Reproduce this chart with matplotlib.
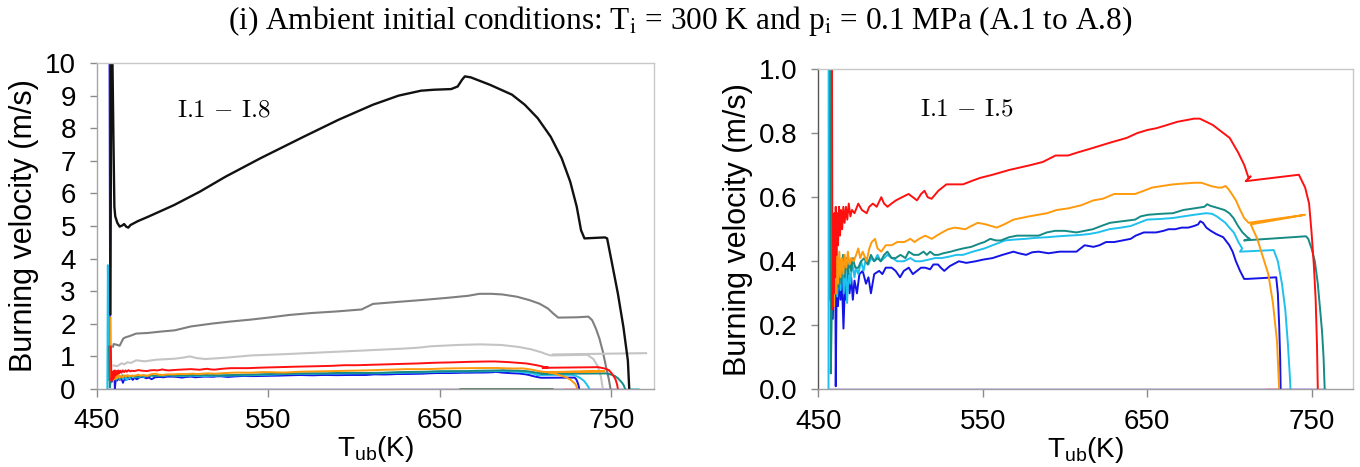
import numpy as np
import matplotlib

matplotlib.use("Agg")
import matplotlib.pyplot as plt

plt.rcParams["font.family"] = ["Liberation Sans", "DejaVu Sans"]
plt.rcParams["mathtext.fontset"] = "custom"
plt.rcParams["mathtext.rm"] = "Liberation Sans"
plt.rcParams["mathtext.it"] = "Liberation Sans:italic"

# --- data (T_ub [K], burning velocity [m/s]) ---
red_pts = np.array([
    [458.2, 1.30], [458.6, 0.25], [459.0, 0.50], [459.4, 0.30], [459.8, 0.55], [460.2, 0.35],
    [460.6, 0.57], [461.0, 0.42], [461.5, 0.55], [462.0, 0.45], [462.6, 0.57], [463.2, 0.48],
    [463.8, 0.56], [464.5, 0.50], [465.2, 0.57], [466.0, 0.52], [466.8, 0.57], [467.6, 0.53],
    [468.5, 0.58], [469.5, 0.54], [470.5, 0.56], [472.0, 0.55], [474.3, 0.58], [476.5, 0.56],
    [479.4, 0.55], [481.0, 0.57], [483.2, 0.58], [485.5, 0.57], [488.3, 0.60], [490.0, 0.58],
    [492.1, 0.57], [494.5, 0.58], [497.2, 0.59], [501.0, 0.60], [504.9, 0.61], [507.5, 0.60],
    [510.0, 0.59], [512.5, 0.61], [514.6, 0.62], [516.5, 0.60], [518.9, 0.595], [523.0, 0.62],
    [527.9, 0.64], [533.0, 0.64], [538.0, 0.64], [543.0, 0.65], [548.3, 0.66], [556.0, 0.67],
    [566.2, 0.685], [579.0, 0.70], [586.6, 0.71], [594.3, 0.73], [598.0, 0.73], [601.9, 0.73],
    [608.0, 0.74], [614.7, 0.75], [627.4, 0.77], [637.6, 0.785], [644.0, 0.80], [650.4, 0.81],
    [655.5, 0.815], [662.0, 0.825], [668.2, 0.835], [678.5, 0.845], [682.0, 0.845], [686.1, 0.835],
    [690.0, 0.825], [693.8, 0.81], [700.2, 0.785], [705.3, 0.74], [709.1, 0.70], [711.7, 0.66],
    [713.0, 0.665], [709.9, 0.65], [742.3, 0.67], [746.1, 0.63], [748.5, 0.58], [750.0, 0.49],
    [751.5, 0.38], [752.5, 0.28], [753.3, 0.14], [753.8, 0.0],
])

orange_pts = np.array([
    [458.0, 2.2], [458.4, 0.30], [459.0, 0.45], [459.6, 0.26], [460.2, 0.40], [460.8, 0.30],
    [461.4, 0.42], [462.0, 0.33], [462.8, 0.43], [463.5, 0.35], [464.3, 0.41], [465.2, 0.36],
    [466.0, 0.42], [467.0, 0.38], [468.0, 0.43], [469.0, 0.39], [470.0, 0.41], [471.5, 0.40],
    [473.0, 0.42], [474.3, 0.44], [475.5, 0.41], [477.0, 0.43], [479.4, 0.40], [481.0, 0.44],
    [482.5, 0.46], [484.5, 0.47], [486.0, 0.44], [488.3, 0.43], [491.0, 0.45], [494.6, 0.45],
    [498.0, 0.46], [502.3, 0.46], [506.0, 0.47], [508.5, 0.46], [511.3, 0.47], [515.0, 0.48],
    [519.0, 0.47], [522.0, 0.48], [525.3, 0.49], [529.0, 0.50], [533.0, 0.505], [539.4, 0.50],
    [543.0, 0.51], [547.0, 0.52], [552.0, 0.515], [558.5, 0.505], [563.0, 0.515], [568.7, 0.53],
    [578.0, 0.54], [589.2, 0.55], [595.0, 0.56], [602.0, 0.565], [610.0, 0.575], [617.3, 0.59],
    [623.0, 0.595], [630.0, 0.61], [642.7, 0.61], [648.0, 0.62], [653.0, 0.63], [665.7, 0.64],
    [678.5, 0.645], [683.0, 0.645], [688.7, 0.635], [693.0, 0.63], [695.5, 0.63], [697.6, 0.635],
    [699.5, 0.625], [701.5, 0.61], [704.0, 0.59], [706.6, 0.56], [709.0, 0.535], [711.7, 0.52],
    [746.0, 0.545], [713.0, 0.515], [717.0, 0.47], [720.0, 0.42], [723.7, 0.36], [726.5, 0.27],
    [729.0, 0.15], [730.3, 0.0],
])

teal_pts = np.array([
    [457.2, 1.3], [457.6, 0.05], [458.5, 0.35], [459.3, 0.28], [460.0, 0.40], [460.8, 0.30],
    [461.5, 0.41], [462.3, 0.32], [463.2, 0.40], [464.0, 0.33], [465.0, 0.42], [466.0, 0.35],
    [467.0, 0.41], [468.0, 0.36], [469.0, 0.40], [470.0, 0.37], [471.0, 0.41], [472.5, 0.38],
    [474.3, 0.38], [476.0, 0.40], [478.0, 0.41], [480.0, 0.39], [482.0, 0.42], [484.0, 0.40],
    [486.0, 0.41], [488.0, 0.40], [490.0, 0.42], [492.0, 0.43], [494.5, 0.41], [497.0, 0.41],
    [500.0, 0.42], [503.0, 0.41], [505.0, 0.43], [508.0, 0.42], [511.0, 0.42], [514.0, 0.43],
    [516.0, 0.42], [518.0, 0.43], [520.5, 0.42], [523.0, 0.42], [526.0, 0.425], [530.5, 0.43],
    [534.0, 0.435], [538.0, 0.44], [543.0, 0.445], [548.0, 0.455], [551.0, 0.46], [554.6, 0.47],
    [558.0, 0.465], [561.0, 0.465], [566.0, 0.475], [571.0, 0.48], [578.0, 0.48], [584.0, 0.48],
    [589.0, 0.49], [594.0, 0.495], [600.0, 0.495], [607.0, 0.49], [612.0, 0.495], [617.0, 0.50],
    [622.0, 0.51], [627.4, 0.52], [635.0, 0.525], [642.7, 0.53], [646.0, 0.54], [650.4, 0.545],
    [658.0, 0.548], [665.7, 0.55], [672.0, 0.56], [678.5, 0.565], [684.8, 0.57], [686.5, 0.578],
    [688.5, 0.573], [693.8, 0.565], [697.0, 0.56], [700.0, 0.55], [702.5, 0.535], [705.3, 0.51],
    [708.0, 0.49], [711.0, 0.475], [712.5, 0.47], [709.0, 0.465], [746.6, 0.478], [748.0, 0.47],
    [750.0, 0.44], [752.0, 0.40], [753.8, 0.33], [755.2, 0.25], [756.4, 0.18], [757.3, 0.10],
    [758.0, 0.0],
])

cyan_pts = np.array([
    [456.2, 0.0], [456.5, 3.8], [457.2, 0.28], [458.5, 0.38], [459.5, 0.30], [460.5, 0.40],
    [461.5, 0.29], [462.5, 0.38], [463.5, 0.31], [464.5, 0.40], [465.5, 0.30], [466.5, 0.39],
    [467.5, 0.27], [468.5, 0.37], [469.5, 0.33], [470.5, 0.40], [472.0, 0.35], [473.0, 0.38],
    [474.3, 0.36], [476.0, 0.40], [477.5, 0.37], [479.0, 0.41], [480.5, 0.39], [482.0, 0.41],
    [484.0, 0.40], [486.0, 0.42], [488.0, 0.40], [490.0, 0.41], [492.0, 0.42], [495.0, 0.41],
    [498.0, 0.40], [502.0, 0.40], [506.0, 0.41], [509.0, 0.40], [512.6, 0.40], [517.0, 0.405],
    [521.0, 0.41], [525.0, 0.41], [530.0, 0.415], [534.0, 0.42], [538.0, 0.42], [544.0, 0.43],
    [551.0, 0.44], [556.0, 0.45], [563.6, 0.465], [570.0, 0.468], [576.0, 0.47], [582.0, 0.473],
    [589.0, 0.475], [596.0, 0.478], [602.0, 0.48], [609.0, 0.482], [614.7, 0.485], [620.0, 0.49],
    [627.0, 0.50], [634.0, 0.505], [640.0, 0.51], [645.0, 0.52], [650.0, 0.53], [658.0, 0.532],
    [665.7, 0.535], [672.0, 0.54], [678.5, 0.545], [686.0, 0.55], [689.5, 0.548], [692.4, 0.54],
    [695.0, 0.53], [697.6, 0.52], [700.0, 0.505], [702.7, 0.49], [705.5, 0.46], [707.8, 0.44],
    [706.5, 0.43], [727.0, 0.435], [729.5, 0.40], [732.0, 0.33], [734.0, 0.25], [735.5, 0.15],
    [736.7, 0.05], [737.2, 0.0],
])

blue_pts = np.array([
    [457.4, 12.0], [457.9, 0.30], [458.8, 0.22], [459.6, 0.40], [460.3, 0.47], [460.6, 0.01],
    [461.2, 0.36], [462.0, 0.26], [462.8, 0.38], [463.5, 0.28], [464.3, 0.35], [465.3, 0.19],
    [466.2, 0.33], [467.0, 0.28], [468.0, 0.36], [469.0, 0.30], [470.0, 0.35], [471.0, 0.28],
    [472.0, 0.34], [473.5, 0.30], [475.0, 0.36], [477.0, 0.37], [479.0, 0.33], [480.5, 0.35],
    [482.0, 0.30], [484.0, 0.36], [487.0, 0.37], [489.0, 0.36], [491.0, 0.38], [494.6, 0.38],
    [497.0, 0.37], [499.7, 0.35], [502.0, 0.37], [505.0, 0.38], [507.5, 0.36], [510.0, 0.37],
    [512.5, 0.38], [515.0, 0.38], [518.0, 0.375], [520.0, 0.39], [522.8, 0.39], [524.5, 0.38],
    [526.6, 0.37], [530.0, 0.385], [535.5, 0.40], [540.0, 0.395], [545.7, 0.40], [550.0, 0.405],
    [556.0, 0.41], [562.0, 0.42], [568.7, 0.43], [572.0, 0.425], [576.4, 0.42], [580.0, 0.428],
    [584.0, 0.43], [590.0, 0.425], [596.8, 0.43], [602.0, 0.43], [607.0, 0.43], [612.0, 0.45],
    [617.3, 0.445], [621.0, 0.45], [625.0, 0.46], [630.0, 0.46], [635.0, 0.465], [640.0, 0.47],
    [643.0, 0.48], [648.0, 0.49], [655.5, 0.49], [660.0, 0.495], [663.0, 0.50], [667.0, 0.50],
    [671.0, 0.505], [675.0, 0.505], [678.5, 0.51], [681.0, 0.515], [682.3, 0.525], [684.0, 0.52],
    [686.0, 0.505], [688.7, 0.495], [692.0, 0.485], [696.3, 0.475], [698.5, 0.46], [700.0, 0.45],
    [702.0, 0.43], [704.0, 0.40], [706.5, 0.37], [709.0, 0.345], [711.0, 0.345], [728.5, 0.35],
    [729.5, 0.30], [730.3, 0.20], [730.9, 0.10], [731.2, 0.0],
])

black_pts = np.array([
    [458.0, 2.3], [458.5, 11.0], [459.2, 10.0], [459.8, 7.5], [460.3, 5.6], [460.8, 5.3],
    [462.0, 5.1], [463.4, 4.98], [465.0, 5.02], [466.0, 5.06], [467.2, 4.98], [468.4, 4.95],
    [469.7, 5.03], [474.0, 5.15], [479.8, 5.28], [487.0, 5.45], [495.0, 5.64], [510.0, 6.05],
    [525.0, 6.51], [545.5, 7.08], [570.7, 7.74], [591.0, 8.26], [611.0, 8.72], [626.0, 9.0],
    [639.0, 9.15], [646.5, 9.18], [656.6, 9.2], [660.4, 9.28], [663.0, 9.49], [664.6, 9.59],
    [668.0, 9.56], [679.3, 9.33], [692.0, 9.03], [699.5, 8.72], [707.0, 8.31], [714.6, 7.74],
    [721.0, 7.08], [726.0, 6.36], [729.8, 5.59], [732.3, 4.87], [734.3, 4.62], [746.2, 4.65],
    [747.5, 4.62], [750.0, 3.95], [753.8, 2.92], [757.0, 1.9], [759.6, 0.87], [760.4, 0.0],
])

dgray_pts = np.array([
    [459.5, 1.30], [459.9, 1.38], [461.5, 1.36], [463.4, 1.33], [465.5, 1.55], [467.0, 1.59],
    [469.0, 1.62], [473.0, 1.70], [480.0, 1.72], [487.0, 1.76], [495.5, 1.80], [505.0, 1.92],
    [517.7, 2.01], [528.0, 2.07], [540.0, 2.13], [550.0, 2.19], [562.0, 2.27], [575.0, 2.33],
    [590.0, 2.38], [604.4, 2.44], [607.5, 2.52], [611.0, 2.61], [625.0, 2.67], [639.7, 2.73],
    [655.0, 2.80], [666.6, 2.86], [673.0, 2.92], [680.0, 2.92], [686.5, 2.90], [695.0, 2.83],
    [702.0, 2.73], [708.0, 2.62], [713.0, 2.47], [716.0, 2.32], [719.0, 2.19], [730.0, 2.20],
    [736.6, 2.22], [738.8, 2.11], [741.0, 1.85], [743.0, 1.55], [745.0, 1.15], [747.0, 0.65],
    [748.5, 0.30], [749.5, 0.0],
])

lgray_pts = np.array([
    [459.8, 0.72], [462.0, 0.70], [464.6, 0.79], [466.0, 0.76], [468.0, 0.82], [470.0, 0.80],
    [473.0, 0.88], [478.0, 0.85], [485.0, 0.90], [495.5, 0.93], [500.0, 0.96], [504.4, 1.0],
    [508.0, 0.95], [513.3, 0.92], [525.0, 0.96], [540.0, 1.03], [560.0, 1.07], [584.5, 1.13],
    [605.0, 1.18], [629.0, 1.24], [638.0, 1.27], [644.5, 1.31], [660.0, 1.35], [673.5, 1.37],
    [686.0, 1.35], [696.0, 1.29], [703.0, 1.22], [709.0, 1.13], [712.0, 1.07], [714.7, 1.03],
    [725.0, 1.04], [736.0, 1.05], [739.5, 0.92], [742.0, 0.70], [743.8, 0.40], [745.0, 0.0],
])
lgray_tail = np.array([[715.9, 1.06], [770.2, 1.10]])

# runs that sit on zero (T_ub start, end)
zero_lavender = [456.0, 759.0]
zero_green = [661.0, 716.0]
zero_pink = [722.0, 730.0]
zero_violet = [735.0, 750.0]
zero_cyan = [759.0, 766.0]

ambient_series = [
    (dgray_pts, "#7f7f7f", 1.5),
    (lgray_pts, "#c4c4c4", 1.5),
    (lgray_tail, "#c4c4c4", 1.5),
    (blue_pts, "#1414e6", 1.4),
    (cyan_pts, "#1ec0ee", 1.4),
    (teal_pts, "#168a84", 1.4),
    (orange_pts, "#ff9a0d", 1.4),
    (red_pts, "#ff1010", 1.4),
    (black_pts, "#111111", 1.7),
]
low_series = [
    (blue_pts, "#1414e6", 1.4),
    (cyan_pts, "#1ec0ee", 1.4),
    (teal_pts, "#168a84", 1.4),
    (orange_pts, "#ff9a0d", 1.4),
    (red_pts, "#ff1010", 1.4),
]


def draw_zero_runs(ax, runs):
    for run, color in runs:
        ax.plot(run, [0.0, 0.0], color=color, lw=2.0, solid_capstyle="butt", zorder=1.5)


def style_axis(ax, left_spine_color):
    ax.set_xlim(450, 775)
    ax.set_xticks([450, 550, 650, 750])
    ax.spines["left"].set_color(left_spine_color)
    ax.spines["bottom"].set_color("#a0a0a0")
    ax.spines["top"].set_color("#c8c8c8")
    ax.spines["right"].set_color("#c8c8c8")
    for sp in ax.spines.values():
        sp.set_linewidth(1.0)
    ax.tick_params(axis="x", direction="out", length=6, width=1.0, color="#8a8a8a",
                   labelsize=20, pad=8)
    ax.tick_params(axis="y", direction="out", length=5, width=1.0, color="#8a8a8a",
                   labelsize=20, pad=10)
    ax.set_xlabel(r"T$_\mathrm{ub}$(K)", fontsize=20, labelpad=0)
    ax.set_ylabel("Burning velocity (m/s)", fontsize=22, labelpad=4)


fig = plt.figure(figsize=(13.6, 4.67), dpi=100)
ax_l = fig.add_axes([0.0711, 0.1670, 0.4100, 0.6981])
ax_r = fig.add_axes([0.6017, 0.1660, 0.3929, 0.6863])

# left panel: I.1 - I.8
for pts, color, lw in ambient_series:
    ax_l.plot(pts[:, 0], pts[:, 1], color=color, lw=lw, zorder=2)
draw_zero_runs(ax_l, [(zero_lavender, "#cfc3ec"), (zero_green, "#4d7a52"),
                      (zero_pink, "#f2a0c8"), (zero_violet, "#d2b6f2"), (zero_cyan, "#66cce0")])
ax_l.set_ylim(0, 10)
ax_l.set_yticks(range(0, 11))
style_axis(ax_l, "#a6a6a6")
ax_l.text(497, 8.55, r"I.1 $-$ I.8", fontsize=18, family="cmr10", math_fontfamily="cm",
          ha="left", va="center")

# right panel: I.1 - I.5
for pts, color, lw in low_series:
    ax_r.plot(pts[:, 0], pts[:, 1], color=color, lw=lw, zorder=2)
draw_zero_runs(ax_r, [(zero_lavender, "#cfc3ec"), (zero_pink, "#f2a0c8"),
                      (zero_violet, "#d2b6f2")])
ax_r.set_ylim(0, 1.0)
ax_r.set_yticks(np.arange(0, 1.01, 0.2))
ax_r.yaxis.set_major_formatter(matplotlib.ticker.FormatStrFormatter("%.1f"))
style_axis(ax_r, "#555555")
ax_r.text(512, 0.875, r"I.1 $-$ I.5", fontsize=18, family="cmr10", math_fontfamily="cm",
          ha="left", va="center")

fig.text(0.5, 0.955,
         r"(i) Ambient initial conditions: T$_\mathrm{i}$ = 300 K and p$_\mathrm{i}$ = 0.1 MPa (A.1 to A.8)",
         ha="center", va="center", fontsize=22.5, family="Liberation Serif", math_fontfamily="stix")

fig.savefig("out.png", dpi=100)
